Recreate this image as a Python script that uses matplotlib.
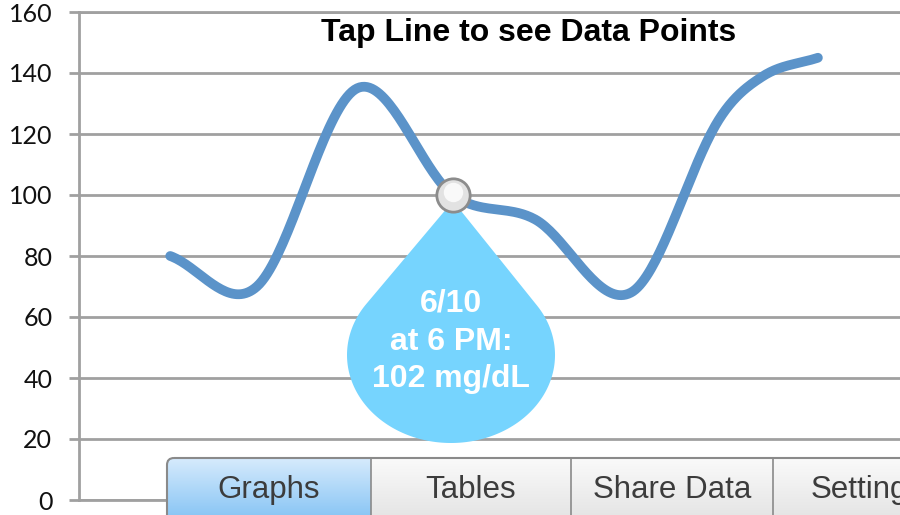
import numpy as np
import matplotlib.pyplot as plt
from matplotlib.patches import Polygon, FancyBboxPatch

# glucose readings: hours since first reading, mg/dL
hours = [10, 19.5, 30.5, 41, 50, 60.5, 70, 75, 81]
glucose = [80, 70, 135, 100, 92, 68, 124, 139, 145]
sel = 3
sel_label = ['6/10', 'at 6 PM:', '102 mg/dL']
y_ticks = [0, 20, 40, 60, 80, 100, 120, 140, 160]
tabs = ['Graphs', 'Tables', 'Share Data', 'Settings']
tab_edges = [167, 371, 571, 773, 960]
title = 'Tap Line to see Data Points'

GRID = '#a0a0a0'
LINE = '#5b93c9'
DROP = '#76d4fe'


def smooth(x, y, n=40):
    # cubic hermite through the points (like a smoothed spreadsheet line)
    x = np.asarray(x, float)
    y = np.asarray(y, float)
    m = np.zeros_like(y)
    m[1:-1] = (y[2:] - y[:-2]) / (x[2:] - x[:-2])
    m[0] = (y[1] - y[0]) / (x[1] - x[0])
    m[-1] = (y[-1] - y[-2]) / (x[-1] - x[-2])
    xs, ys = [], []
    t = np.linspace(0, 1, n)
    for i in range(len(x) - 1):
        h = x[i + 1] - x[i]
        h00 = 2 * t**3 - 3 * t**2 + 1
        h10 = t**3 - 2 * t**2 + t
        h01 = -2 * t**3 + 3 * t**2
        h11 = t**3 - t**2
        xs.append(x[i] + t * h)
        ys.append(h00 * y[i] + h10 * h * m[i] + h01 * y[i + 1] + h11 * h * m[i + 1])
    return np.concatenate(xs), np.concatenate(ys)


fig = plt.figure(figsize=(9, 5.15), dpi=100)
ax = fig.add_axes([79 / 900, 15 / 515, 821 / 900, 488 / 515])
ax.set_xlim(0, 90)
ax.set_ylim(0, 160)
ax.set_yticks(y_ticks)
ax.set_xticks([])
ax.yaxis.grid(True, color=GRID, lw=2)
ax.set_axisbelow(True)
for s in ['top', 'bottom', 'left']:
    ax.spines[s].set_color(GRID)
    ax.spines[s].set_linewidth(2)
ax.spines['right'].set_visible(False)
ax.tick_params(axis='y', length=7.2, width=2, color=GRID, pad=12,
               labelsize=18, labelcolor='#111111')
for lab in ax.get_yticklabels():
    lab.set_family('Lato')

sx, sy = smooth(hours, glucose)
ax.plot(sx, sy, color=LINE, lw=7, solid_capstyle='round')

fig.text(529 / 900, 1 - 33 / 515, title, ha='center', va='center',
         fontsize=23, weight='bold', family='Liberation Sans')

# overlay in pixel units for the callout and the tab bar
ov = fig.add_axes([0, 0, 1, 1], zorder=3)
ov.set_xlim(0, 900)
ov.set_ylim(515, 0)
ov.axis('off')
ov.patch.set_alpha(0)

disp = ax.transData.transform((hours[sel], glucose[sel]))
mx, my = ov.transData.inverted().transform(disp)

# tear drop callout
cx, cy, rx, ry = mx - 2, my + 160, 104, 88
apx, apy = mx, my + 6
pu, pv = (apx - cx) / rx, (apy - cy) / ry
phi = np.arctan2(pv, pu)
alpha = np.arccos(1 / np.hypot(pu, pv))
ang = np.linspace(phi + alpha, phi + 2 * np.pi - alpha, 200)
pts = np.column_stack([cx + rx * np.cos(ang), cy + ry * np.sin(ang)])
pts = np.vstack([[apx, apy], pts])
ov.add_patch(Polygon(pts, closed=True, facecolor=DROP, edgecolor='none'))
for i, txt in enumerate(sel_label):
    ov.text(cx, my + 109 + i * 37.5, txt, ha='center', va='center', color='white',
            fontsize=23, weight='bold', family='Liberation Sans')

ov.plot(mx, my, 'o', ms=24, mfc='#e2e2e2', mec='#8c8c8c', mew=2)
ov.plot(mx, my - 3, 'o', ms=14, mfc='white', mec='none', alpha=0.8)

# tab bar
bar = FancyBboxPatch((tab_edges[0], 458), 900, 80,
                     boxstyle='round,pad=0,rounding_size=7',
                     facecolor='none', edgecolor='#8a8a8a', lw=1.5, zorder=5)
ov.add_patch(bar)
for i, name in enumerate(tabs):
    x0, x1 = tab_edges[i], tab_edges[i + 1]
    if i == 0:
        top, bot = np.array([0.84, 0.92, 0.99]), np.array([0.55, 0.78, 0.96])
    else:
        top, bot = np.array([0.98, 0.98, 0.98]), np.array([0.90, 0.90, 0.90])
    f = np.linspace(0, 1, 60)[:, None]
    grad = (top * (1 - f) + bot * f)[:, None, :]
    im = ov.imshow(grad, extent=(x0, x1, 515, 458), aspect='auto', zorder=4)
    im.set_clip_path(bar)
    if i > 0:
        ov.plot([x0, x0], [458, 515], color='#8a8a8a', lw=1.2, zorder=5)
    ov.text((x0 + x1) / 2 if x1 < 900 else x0 + 94, 490, name, ha='center', va='center',
            fontsize=22.5, color='#3c3c3c', family='Liberation Sans', zorder=6)
ov.set_xlim(0, 900)
ov.set_ylim(515, 0)

fig.savefig('out.png', dpi=100)
